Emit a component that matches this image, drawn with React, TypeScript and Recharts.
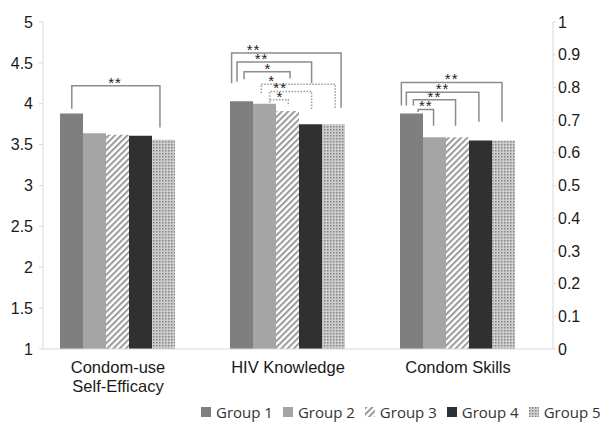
import React from "react";
import { ComposedChart, Bar, Line, XAxis, YAxis, LabelList, Text } from "recharts";

// ---------------- data ----------------
const categories = ["Condom-use Self-Efficacy", "HIV Knowledge", "Condom Skills"];
const groupNames = ["Group 1", "Group 2", "Group 3", "Group 4", "Group 5"];
const group1 = [3.88, 4.03, 3.88];
const group2 = [3.64, 4.0, 3.59];
const group3 = [3.62, 3.91, 3.59];
const group4 = [3.61, 3.75, 3.55];
const group5 = [3.56, 3.75, 3.55];
const leftTicks = [1, 1.5, 2, 2.5, 3, 3.5, 4, 4.5, 5];
const rightTicks = [0, 0.1, 0.2, 0.3, 0.4, 0.5, 0.6, 0.7, 0.8, 0.9, 1];

// significance brackets: category index, compared groups, heights in left-axis units
const brackets = [
  { cat: 0, from: 0, to: 4, top: 4.22, fromEnd: 3.94, toEnd: 3.71, mark: "**", dotted: false },
  { cat: 1, from: 0, to: 4, top: 4.62, fromEnd: 4.25, toEnd: 3.95, mark: "**", dotted: false },
  { cat: 1, from: 0, to: 3, top: 4.51, fromEnd: 4.27, toEnd: 4.25, mark: "**", dotted: false },
  { cat: 1, from: 0, to: 2, top: 4.39, fromEnd: 4.3, toEnd: 4.31, mark: "*", dotted: false },
  { cat: 1, from: 1, to: 4, top: 4.24, fromEnd: 4.13, toEnd: 3.94, mark: "*", dotted: true },
  { cat: 1, from: 1, to: 3, top: 4.15, fromEnd: 4.05, toEnd: 3.92, mark: "**", dotted: true },
  { cat: 1, from: 1, to: 2, top: 4.05, fromEnd: 3.98, toEnd: 3.98, mark: "*", dotted: true },
  { cat: 2, from: 0, to: 4, top: 4.26, fromEnd: 3.98, toEnd: 3.78, mark: "**", dotted: false },
  { cat: 2, from: 0, to: 3, top: 4.14, fromEnd: 3.98, toEnd: 3.78, mark: "**", dotted: false },
  { cat: 2, from: 0, to: 2, top: 4.05, fromEnd: 3.98, toEnd: 3.73, mark: "**", dotted: false },
  { cat: 2, from: 0, to: 1, top: 3.93, fromEnd: 3.9, toEnd: 3.73, mark: "**", dotted: false },
];

// ---------------- layout (not data) ----------------
// where each bracket leg sits inside its bar (fraction of bar width) and where the mark sits along the bracket
const bracketLayout = [
  { l: 0.52, r: 0.41, t: 0.49 },
  { l: 0.07, r: 0.9, t: 0.2 },
  { l: 0.31, r: 0.6, t: 0.33 },
  { l: 0.62, r: 0.65, t: 0.52 },
  { l: 0.38, r: 0.64, t: 0.14 },
  { l: 0.75, r: 0.6, t: 0.25 },
  { l: 0.75, r: 0.57, t: 0.55 },
  { l: 0.06, r: 0.5, t: 0.5 },
  { l: 0.28, r: 0.48, t: 0.5 },
  { l: 0.59, r: 0.45, t: 0.5 },
  { l: 0.8, r: 0.48, t: 0.5 },
];
const CAT_GAP = 0.1; // barCategoryGap 10%
const SLOTS = 6; // Excel-style layout leaves an empty sixth slot
const SLOT = (1 - 2 * CAT_GAP) / SLOTS;

const chartData = categories.map((name, i) => ({
  name,
  g1: group1[i],
  g2: group2[i],
  g3: group3[i],
  g4: group4[i],
  g5: group5[i],
}));

const slotX = (cat: number, g: number, frac: number) => cat + CAT_GAP + (g + frac) * SLOT;

const bracketLines = brackets.map((b, i) => {
  const lay = bracketLayout[i];
  const xl = slotX(b.cat, b.from, lay.l);
  const xr = slotX(b.cat, b.to, lay.r);
  const xm = xl + lay.t * (xr - xl);
  return {
    dotted: b.dotted,
    points: [
      { x: xl, y: b.fromEnd },
      { x: xl, y: b.top },
      { x: xm, y: b.top, mark: b.mark },
      { x: xr, y: b.top },
      { x: xr, y: b.toEnd },
    ],
  };
});

const fills = ["#7f7f7f", "#a5a5a5", "url(#hatchG3)", "#303030", "url(#dotsG5)"];
const AXIS_FONT = "'Liberation Sans', Arial, sans-serif";
const AXIS_COLOR = "#d9d9d9";

const Patterns = () => (
  <svg width={0} height={0} style={{ position: "absolute" }}>
    <defs>
      <pattern id="hatchG3" patternUnits="userSpaceOnUse" width={4.4} height={4.4} patternTransform="rotate(45)">
        <rect width={4.4} height={4.4} fill="#ffffff" />
        <rect width={2} height={4.4} fill="#9b9b9b" />
      </pattern>
      <pattern id="dotsG5" patternUnits="userSpaceOnUse" width={3} height={3}>
        <rect width={3} height={3} fill="#cdcdcd" />
        <rect width={1.5} height={1.5} fill="#858585" />
      </pattern>
    </defs>
  </svg>
);

const CategoryTick = (props: any) => {
  const { x, y, payload } = props;
  return (
    <Text
      x={x - 10}
      y={y + 4}
      width={130}
      textAnchor="middle"
      verticalAnchor="start"
      lineHeight="1.15em"
      fontSize={16.5}
      fontFamily={AXIS_FONT}
      fill="#1a1a1a"
    >
      {payload.value}
    </Text>
  );
};

const MarkLabel = (props: any) => {
  const { x, y, value } = props;
  if (!value) return null;
  return (
    <text x={x} y={y + 2} textAnchor="middle" fontSize={15} fontFamily={AXIS_FONT} fill="#222" letterSpacing={1}>
      {value}
    </text>
  );
};

const Legend = () => (
  <div
    style={{
      position: "absolute",
      left: 201,
      top: 402,
      display: "flex",
      alignItems: "center",
      fontFamily: "'Open Sans', sans-serif",
      fontSize: 15,
      color: "#333",
      whiteSpace: "nowrap",
    }}
  >
    {groupNames.map((g) => (
      <div key={g} style={{ display: "flex", alignItems: "center", marginRight: 10 }}>
        <svg width={10} height={10} style={{ marginRight: 5 }}>
          <rect width={10} height={10} fill={fills[groupNames.indexOf(g)]} />
        </svg>
        <span>{g}</span>
      </div>
    ))}
  </div>
);

export default function App() {
  return (
    <div style={{ position: "absolute", left: 0, top: 0, width: 600, height: 428, background: "#fff" }}>
      <Patterns />
      <ComposedChart
        width={600}
        height={428}
        data={chartData}
        margin={{ top: 22, right: 0, bottom: 29, left: 0 }}
        barCategoryGap="10%"
        barGap={0}
      >
        <XAxis
          xAxisId="cat"
          dataKey="name"
          type="category"
          height={50}
          axisLine={{ stroke: AXIS_COLOR }}
          tickLine={false}
          tick={<CategoryTick />}
          interval={0}
        />
        <XAxis xAxisId="num" type="number" dataKey="x" domain={[0, 3]} hide allowDataOverflow />
        <YAxis
          yAxisId="left"
          domain={[1, 5]}
          ticks={leftTicks}
          width={43}
          axisLine={{ stroke: AXIS_COLOR }}
          tickLine={{ stroke: AXIS_COLOR }}
          tickSize={4}
          tickMargin={6}
          tick={{ fontSize: 16, fontFamily: AXIS_FONT, fill: "#1a1a1a" }}
          allowDataOverflow
        />
        <YAxis
          yAxisId="right"
          orientation="right"
          domain={[0, 1]}
          ticks={rightTicks}
          width={47}
          axisLine={{ stroke: AXIS_COLOR }}
          tickLine={{ stroke: AXIS_COLOR }}
          tickSize={3}
          tickMargin={2}
          tick={{ fontSize: 16, fontFamily: AXIS_FONT, fill: "#1a1a1a" }}
          allowDataOverflow
        />
        {["g1", "g2", "g3", "g4", "g5"].map((k, i) => (
          <Bar key={k} dataKey={k} xAxisId="cat" yAxisId="left" fill={fills[i]} isAnimationActive={false} />
        ))}
        {/* empty sixth slot (Excel layout) on the secondary axis */}
        <Bar dataKey="empty" xAxisId="cat" yAxisId="right" fill="none" isAnimationActive={false} legendType="none" />
        {bracketLines.map((b, i) => (
          <Line
            key={"br" + i}
            data={b.points}
            dataKey="y"
            xAxisId="num"
            yAxisId="left"
            type="linear"
            stroke={b.dotted ? "#9a9a9a" : "#8c8c8c"}
            strokeWidth={1.5}
            strokeDasharray={b.dotted ? "1.5 1.5" : undefined}
            dot={false}
            activeDot={false}
            legendType="none"
            isAnimationActive={false}
          >
            <LabelList dataKey="mark" content={<MarkLabel />} />
          </Line>
        ))}
      </ComposedChart>
      <Legend />
    </div>
  );
}
